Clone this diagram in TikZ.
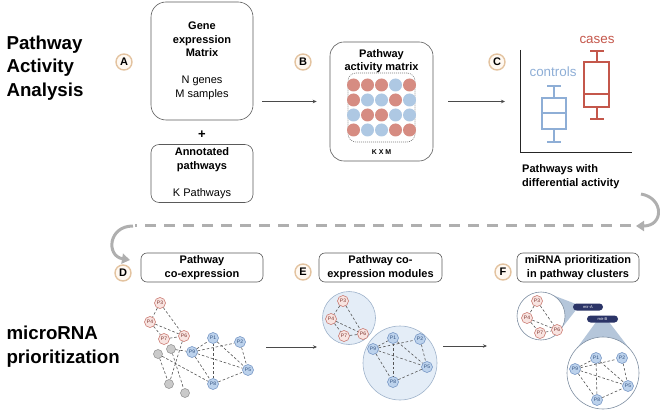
\documentclass[tikz,border=0pt]{standalone}
\usepackage{fontspec}
\setmainfont{Liberation Sans}
\usetikzlibrary{arrows.meta}
\newcommand\myfs[2]{\fontsize{#1}{#2}\selectfont}
\definecolor{boxcol}{HTML}{5A5A5A}
\definecolor{arrowcol}{HTML}{4A4A4A}
\definecolor{ring}{HTML}{E3C3A0}
\definecolor{ringfill}{HTML}{FFF9F2}
\definecolor{dotr}{HTML}{D68C82}
\definecolor{dotb}{HTML}{AEC8E3}
\definecolor{ctrlblue}{HTML}{8EAED6}
\definecolor{casered}{HTML}{C4574B}
\definecolor{grayarr}{HTML}{AFAFAF}
\definecolor{edgecol}{HTML}{555555}
\definecolor{redline}{HTML}{C46A60}
\definecolor{redfill}{HTML}{F8E4E1}
\definecolor{redtext}{HTML}{7A2E28}
\definecolor{blueline}{HTML}{6B8DBF}
\definecolor{bluefill}{HTML}{BCD2EC}
\definecolor{bluetext}{HTML}{2F4F7F}
\definecolor{grayline}{HTML}{8C8C8C}
\definecolor{grayfill}{HTML}{CACACA}
\definecolor{modfill}{HTML}{E4EDF7}
\definecolor{modline}{HTML}{9FB3CB}
\definecolor{wedge}{HTML}{B5C6DA}
\definecolor{navy}{HTML}{2B3467}
\begin{document}
\begin{tikzpicture}[x=1pt,y=-1pt,
  box/.style={draw=boxcol, line width=0.6},
  lett/.style={circle, draw=ring, fill=ringfill, line width=1.4, minimum size=16, inner sep=0, font=\bfseries\myfs{11}{11}},
  bbox/.style={draw=boxcol, line width=0.6, rounded corners=6, minimum width=122, minimum height=29, inner sep=1, align=center, font=\bfseries\myfs{11}{13.5}},
  arr/.style={draw=arrowcol, line width=0.7, -{Stealth[length=4pt,width=3.5pt]}},
  bigarr/.style={draw=grayarr, line width=3, -{Triangle[length=8pt,width=10pt]}},
  ed/.style={draw=edgecol, line width=0.6, dash pattern=on 2.6pt off 2pt},
  rn/.style={circle, draw=redline, fill=redfill, line width=0.5, minimum size=11, inner sep=0, font=\myfs{5}{5}, text=redtext},
  bn/.style={circle, draw=blueline, fill=bluefill, line width=0.5, minimum size=11, inner sep=0, font=\myfs{5}{5}, text=bluetext},
  gn/.style={circle, draw=grayline, fill=grayfill, line width=0.5, minimum size=9, inner sep=0},
  modc/.style={circle, draw=modline, fill=modfill, line width=0.6, inner sep=0},
  fmodc/.style={circle, draw=modline!80!black, fill=white, line width=0.6, inner sep=0},
  pill/.style={rounded corners=3.5, fill=navy, minimum width=30, minimum height=7, inner sep=0, text=white, font=\myfs{4}{4}},
  ttl/.style={anchor=west, align=left, font=\bfseries\myfs{18.7}{23.5}}
]
\useasboundingbox (0,0) rectangle (660,411);

% ---------- titles ----------
\node[ttl] (t1) at (3,68) {Pathway\\Activity\\Analysis};
\node[ttl] (t2) at (3,346.5) {microRNA\\prioritization};

% ---------- A ----------
\node[lett] (cA) at (124,62) {A};
\node[box, rounded corners=15, minimum width=102, minimum height=118, align=center, font=\myfs{11}{13.5}] (gene) at (202,61)
  {\textbf{Gene}\\\textbf{expression}\\\textbf{Matrix}\\[13.5pt]N genes\\M samples};
\node[font=\bfseries\myfs{13}{13}] (plus) at (202,135) {+};
\node[box, rounded corners=8, minimum width=102, minimum height=55, align=center, font=\myfs{11}{14}] (annot) at (202,173.5)
  {\textbf{Annotated}\\\textbf{pathways}\\[13pt]K Pathways};

% ---------- B ----------
\node[lett] (cB) at (303,62) {B};
\node[box, rounded corners=14, minimum width=103, minimum height=119] (act) at (381.5,101.5) {};
\node[align=center, font=\bfseries\myfs{11}{13.5}] (actT) at (381.5,61) {Pathway\\activity matrix};
\node[draw=boxcol!80, line width=0.6, dash pattern=on 1pt off 1pt, rounded corners=8, minimum width=67, minimum height=69, inner sep=0] (grid) at (381.5,107.5) {};
\foreach \y/\cols in {85/{dotr,dotr,dotr,dotb,dotr},100/{dotr,dotb,dotb,dotr,dotb},115/{dotb,dotr,dotr,dotb,dotb},130/{dotr,dotb,dotb,dotr,dotr}} {
  \foreach \c [count=\i] in \cols { \fill[\c] (339.5+14*\i,\y) circle (6.5); }
}
\node[font=\bfseries\myfs{7}{7}] (kxm) at (381.5,152) {K X M};

% ---------- C ----------
\node[lett] (cC) at (497,62) {C};
\coordinate (axO) at (520,152);
\draw[line width=0.8, black!85] (520,50) -- (axO) -- (632,152);
\begin{scope}[draw=ctrlblue, line width=1.8]
  \draw (554,86) -- (554,98) (554,129) -- (554,142);
  \draw (547,86) -- (561,86) (547,142) -- (561,142);
  \draw (542,98) rectangle (566,129);
  \draw (542,113) -- (566,113);
\end{scope}
\begin{scope}[draw=casered, line width=1.8]
  \draw (597,51) -- (597,62) (597,107) -- (597,119);
  \draw (590,51) -- (604,51) (590,119) -- (604,119);
  \draw (584,62) rectangle (609,107);
  \draw (584,94) -- (609,94);
\end{scope}
\node[text=ctrlblue, font=\myfs{13.4}{13.4}] (ctrl) at (553,72) {controls};
\node[text=casered, font=\myfs{13.4}{13.4}] (cases) at (597,40) {cases};
\node[anchor=west, align=left, font=\bfseries\myfs{11}{13.5}, inner sep=0] (txtC) at (522,176.5) {Pathways with\\differential activity};

% arrows top row
\draw[arr] ([xshift=9pt]gene.east |- act.center) -- ([xshift=-13pt]act.west);
\draw[arr] ([xshift=15pt]act.east) -- ([xshift=-15pt]axO |- act.center);

% ---------- big gray connector ----------
\coordinate (gs) at (641,194);
\coordinate (gt) at (636,226);
\coordinate (g1) at (631,226);
\coordinate (g2) at (135,226);
\coordinate (g3) at (133,226);
\coordinate (ge) at (130,260);
\draw[bigarr] (gs) .. controls (664,198) and (664,226) .. (gt);
\draw[draw=grayarr, line width=3, dash pattern=on 11pt off 8pt] (g1) -- (g2);
\draw[bigarr] (g3) .. controls (108,226) and (106,256) .. (ge);

% ---------- bottom row boxes ----------
\node[lett] (cD) at (123,273) {D};
\node[bbox] (boxD) at (202,267.5) {Pathway\\co-expression};
\node[lett] (cE) at (303,272) {E};
\node[bbox, minimum width=123] (boxE) at (380.5,267.5) {Pathway co-\\expression modules};
\node[lett] (cF) at (503,272) {F};
\node[bbox] (boxF) at (578,267.5) {miRNA prioritization\\in pathway clusters};

% ---------- D network ----------
\node[rn] (d3) at (160,303) {P3};
\node[rn] (d4) at (150,322) {P4};
\node[rn] (d7) at (164,339) {P7};
\node[rn] (d6) at (184,336) {P6};
\node[gn] (dg1) at (171,349) {};
\node[gn] (dg2) at (158,354) {};
\node[gn] (dg3) at (169,384) {};
\node[gn] (dg4) at (185,393) {};
\node[bn] (d9) at (192,352) {P9};
\node[bn] (d1) at (213,338) {P1};
\node[bn] (d2) at (240,342) {P2};
\node[bn] (d5) at (248,370) {P5};
\node[bn] (d8) at (213,384) {P8};
\foreach \a/\b in {d3/d4,d3/d6,d4/d6,d4/d7,d7/d6,dg1/d9,dg1/dg4,dg2/d8,d6/dg3,dg2/dg3,d9/d1,d9/d2,d9/d5,d9/d8,d1/d8,d1/d5,d2/d5,d8/d5}
  \draw[ed] (\a) -- (\b);

\coordinate (dOut) at (266,347);
\coordinate (eIn) at (317,347);
\draw[arr] (dOut) -- (eIn);

% ---------- E modules ----------
\node[modc, minimum size=53] (modA) at (349,318) {};
\node[modc, minimum size=74] (modB) at (400,363) {};
\node[rn] (e3) at (343,301) {P3};
\node[rn] (e4) at (331,319) {P4};
\node[rn] (e7) at (344,336) {P7};
\node[rn] (e6) at (363,334) {P6};
\node[bn] (e1) at (393,338) {P1};
\node[bn] (e2) at (420,339) {P2};
\node[bn] (e9) at (373,349) {P9};
\node[bn] (e5) at (427,367) {P5};
\node[bn] (e8) at (393,382) {P8};
\foreach \a/\b in {e3/e4,e3/e6,e4/e6,e4/e7,e7/e6,e9/e1,e9/e2,e9/e5,e9/e8,e1/e8,e1/e5,e2/e5,e8/e5}
  \draw[ed] (\a) -- (\b);

\coordinate (eOut) at (443,346);
\coordinate (fIn) at (487,346);
\draw[arr] (eOut) -- (fIn);

% ---------- F ----------
\fill[wedge] (576,304) -- (552.7,295.1) -- (561.7,328.1) -- (576,310) -- cycle;
\fill[wedge] (596,322) -- (577,348) -- (629,348) -- (609,322) -- cycle;
\node[fmodc, minimum size=48] (fA) at (541,316) {};
\node[fmodc, minimum size=72] (fB) at (603,373) {};
\node[pill] (mirA) at (588,307) {mir-A};
\node[pill, minimum width=31] (mirB) at (602.5,319) {mir-B};
\node[rn] (f3) at (537,301) {P3};
\node[rn] (f4) at (527,318) {P4};
\node[rn] (f7) at (540,333) {P7};
\node[rn] (f6) at (557,330) {P6};
\node[bn] (f1) at (596,358) {P1};
\node[bn] (f2) at (622,358) {P2};
\node[bn] (f9) at (575,369) {P9};
\node[bn] (f5) at (628,386) {P5};
\node[bn] (f8) at (597,400) {P8};
\foreach \a/\b in {f3/f4,f3/f6,f4/f6,f4/f7,f7/f6,f9/f1,f9/f2,f9/f5,f9/f8,f1/f8,f1/f5,f2/f5,f8/f5}
  \draw[ed] (\a) -- (\b);
\end{tikzpicture}
\end{document}
